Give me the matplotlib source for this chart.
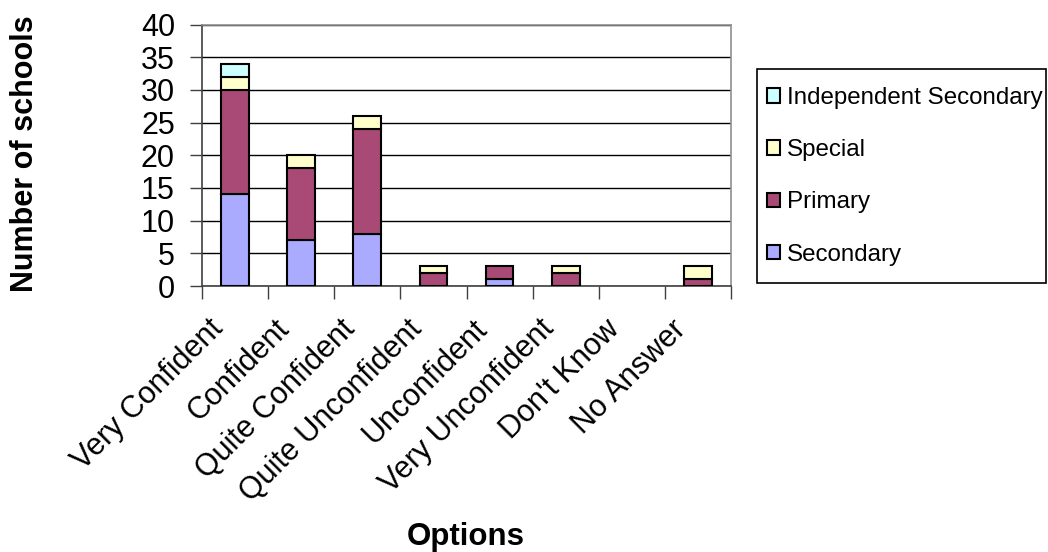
import numpy as np
import matplotlib
matplotlib.use('Agg')
import matplotlib.pyplot as plt
from matplotlib.patches import Rectangle
from matplotlib.transforms import ScaledTranslation

plt.rcParams['font.family'] = ['Liberation Sans', 'DejaVu Sans']

# Data
options = ['Very Confident', 'Confident', 'Quite Confident', 'Quite Unconfident',
           'Unconfident', 'Very Unconfident', "Don't Know", 'No Answer']
secondary = [14, 7, 8, 0, 1, 0, 0, 0]
primary = [16, 11, 16, 2, 2, 2, 0, 1]
special = [2, 2, 2, 1, 0, 1, 0, 2]
independent = [2, 0, 0, 0, 0, 0, 0, 0]
yticks = [0, 5, 10, 15, 20, 25, 30, 35, 40]

series = [('Secondary', secondary, '#AAAAFF'),
          ('Primary', primary, '#A84A75'),
          ('Special', special, '#FFFFCC'),
          ('Independent Secondary', independent, '#CCFFFF')]

fig = plt.figure(figsize=(10.48, 5.52), dpi=100)
ax = fig.add_axes([202/1048, 1-286/552, 529/1048, 261.5/552])

x = np.arange(len(options))
bottom = np.zeros(len(options))
handles = []
for name, vals, col in series:
    vals = np.array(vals, dtype=float)
    keep = vals > 0
    b = ax.bar(x[keep], vals[keep], bottom=bottom[keep], width=0.42,
               color=col, edgecolor='black', linewidth=1.5, label=name, zorder=3)
    handles.append(b)
    bottom += vals

ax.set_xlim(-0.5, len(options) - 0.5)
ax.set_ylim(0, 40)
ax.set_yticks(yticks)
ax.tick_params(axis='y', length=9, width=1, labelsize=22, pad=10.5, color='#404040')
ax.set_xticks(x)
ax.set_xticklabels(options, rotation=45, ha='right', va='top', rotation_mode='anchor')
ax.tick_params(axis='x', which='major', length=0, labelsize=22, pad=0)
# shift the rotated labels down-left like the original
offset = ScaledTranslation(-27/100, -28/100, fig.dpi_scale_trans)
for lab in ax.get_xticklabels():
    lab.set_transform(lab.get_transform() + offset)
ax.set_xticks(np.arange(-0.5, len(options)), minor=True)
ax.tick_params(axis='x', which='minor', length=9, width=1, color='#404040')

ax.yaxis.grid(True, color='black', linewidth=1)
ax.set_axisbelow(True)
for s in ['top', 'right']:
    ax.spines[s].set_color('#909090')
    ax.spines[s].set_linewidth(1.2)
for s in ['left', 'bottom']:
    ax.spines[s].set_color('#404040')
    ax.spines[s].set_linewidth(1.2)

fig.text(25/1048, 1-154/552, 'Number of schools', rotation=90, ha='center', va='center',
         fontsize=22, fontweight='bold')
fig.text(466/1048, 1-537/552, 'Options', ha='center', va='center',
         fontsize=22.5, fontweight='bold')

# legend box drawn separately so the padding matches the original
fig.patches.append(Rectangle((757/1048, 1-283/552), 289/1048, 214/552,
                             transform=fig.transFigure, facecolor='white',
                             edgecolor='black', linewidth=1.2, zorder=1))
leg = fig.legend(handles[::-1], [s[0] for s in series][::-1], loc='upper left',
                 bbox_to_anchor=(767/1048, 1-87/552), borderaxespad=0, borderpad=0,
                 frameon=False, fontsize=17.4,
                 handlelength=0.55, handleheight=0.55, handletextpad=0.29,
                 labelspacing=1.25)
leg.set_zorder(2)

fig.savefig('out.png', dpi=100)
